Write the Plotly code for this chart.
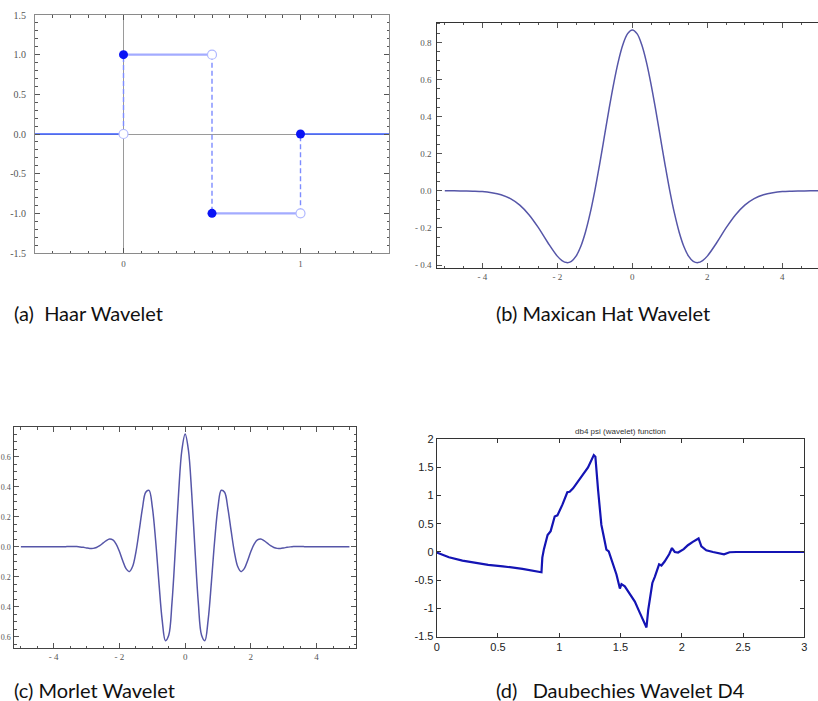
import plotly.graph_objects as go

# ---------------- data ----------------
# (a) Haar wavelet: break points and the level on each interval
haar_breaks = [0, 0.5, 1]
haar_levels = [0, 1, -1, 0]
haar_xlim = [-0.5, 1.5]
haar_filled_y = [1, -1, 0]     # value taken at each break point
haar_open_y = [0, 1, -1]       # limit from the left at each break point

# (b) Mexican hat wavelet
mex_x = [-5.0, -4.75, -4.5, -4.25, -4.0, -3.75, -3.5, -3.25, -3.0, -2.75, -2.5, -2.25,
         -2.0, -1.875, -1.75, -1.625, -1.5, -1.375, -1.25, -1.125, -1.0, -0.875, -0.75,
         -0.625, -0.5, -0.375, -0.25, -0.125, 0.0, 0.125, 0.25, 0.375, 0.5, 0.625, 0.75,
         0.875, 1.0, 1.125, 1.25, 1.375, 1.5, 1.625, 1.75, 1.875, 2.0,
         2.25, 2.5, 2.75, 3.0, 3.25, 3.5, 3.75, 4.0, 4.25, 4.5, 4.75, 5.0]
mex_y = [0.000, 0.000, -0.001, -0.002, -0.004, -0.010, -0.021, -0.042, -0.077, -0.130, -0.200, -0.280,
         -0.352, -0.376, -0.387, -0.380, -0.352, -0.300, -0.223, -0.122, 0.000, 0.139, 0.286,
         0.435, 0.574, 0.695, 0.788, 0.847, 0.867, 0.847, 0.788, 0.695, 0.574, 0.435, 0.286,
         0.139, 0.000, -0.122, -0.223, -0.300, -0.352, -0.380, -0.387, -0.376, -0.352,
         -0.280, -0.200, -0.130, -0.077, -0.042, -0.021, -0.010, -0.004, -0.002, -0.001, 0.000, 0.000]

# (c) Morlet wavelet
morlet_x = [-5.0, -4.9, -4.8, -4.7, -4.6, -4.5, -4.4, -4.3, -4.2, -4.1, -4.0,
            -3.9, -3.8, -3.7, -3.6, -3.5, -3.4, -3.3, -3.2, -3.1, -3.0,
            -2.9, -2.8, -2.7, -2.6, -2.5, -2.4, -2.3, -2.2, -2.1, -2.0,
            -1.9, -1.8, -1.7, -1.6, -1.5, -1.4, -1.3, -1.2, -1.1, -1.0,
            -0.9, -0.8, -0.7, -0.6, -0.5, -0.4, -0.3, -0.2, -0.1, 0.0,
            0.1, 0.2, 0.3, 0.4, 0.5, 0.6, 0.7, 0.8, 0.9, 1.0,
            1.1, 1.2, 1.3, 1.4, 1.5, 1.6, 1.7, 1.8, 1.9, 2.0,
            2.1, 2.2, 2.3, 2.4, 2.5, 2.6, 2.7, 2.8, 2.9, 3.0,
            3.1, 3.2, 3.3, 3.4, 3.5, 3.6, 3.7, 3.8, 3.9, 4.0,
            4.1, 4.2, 4.3, 4.4, 4.5, 4.6, 4.7, 4.8, 4.9, 5.0]
morlet_y = [0, 0, 0, 0, 0, 0, 0, 0, 0, 0, 0,
            0, 0, 0.000, 0.001, 0.002, 0.002, 0.001, -0.001, -0.004, -0.008,
            -0.011, -0.011, -0.005, 0.007, 0.024, 0.041, 0.051, 0.045, 0.017, -0.032,
            -0.093, -0.146, -0.166, -0.132, -0.037, 0.105, 0.256, 0.363, 0.376, 0.266,
            0.045, -0.234, -0.487, -0.626, -0.590, -0.371, -0.022, 0.355, 0.643, 0.751,
            0.643, 0.355, -0.022, -0.371, -0.590, -0.626, -0.487, -0.234, 0.045, 0.266,
            0.376, 0.363, 0.256, 0.105, -0.037, -0.132, -0.166, -0.146, -0.093, -0.032,
            0.017, 0.045, 0.051, 0.041, 0.024, 0.007, -0.005, -0.011, -0.011, -0.008,
            -0.004, -0.001, 0.001, 0.002, 0.002, 0.001, 0.000, 0, 0, 0,
            0, 0, 0, 0, 0, 0, 0, 0, 0, 0]
# tick labels as visible in the picture (minus signs are cropped there)
morlet_ytext = ['0.6', '0.4', '0.2', '0.0', '0.2', '0.4', '0.6']

# (d) Daubechies D4 (db4 psi)
db_x = [0.0, 0.10, 0.21, 0.32, 0.42, 0.54, 0.70, 0.855, 0.862, 0.875, 0.905, 0.93,
        0.963, 0.985, 1.026, 1.066, 1.085, 1.113, 1.167, 1.235, 1.282, 1.295, 1.317,
        1.344, 1.363, 1.385, 1.404, 1.426, 1.467, 1.495, 1.508, 1.535, 1.576, 1.617,
        1.658, 1.712, 1.726, 1.74, 1.76, 1.78, 1.815, 1.834, 1.86, 1.897, 1.92, 1.943,
        1.97, 2.016, 2.05, 2.09, 2.137, 2.16, 2.20, 2.255, 2.31, 2.345, 2.39, 2.445, 3.0]
db_y = [-0.01, -0.094, -0.153, -0.189, -0.23, -0.254, -0.30, -0.36, -0.10, 0.05, 0.30, 0.37,
        0.63, 0.65, 0.84, 1.06, 1.07, 1.13, 1.29, 1.50, 1.72, 1.69, 1.10,
        0.48, 0.28, 0.04, 0.01, -0.14, -0.40, -0.65, -0.57, -0.61, -0.74, -0.88,
        -1.08, -1.34, -1.03, -0.80, -0.55, -0.44, -0.22, -0.24, -0.17, -0.04, 0.07, 0.0,
        -0.01, 0.05, 0.12, 0.18, 0.24, 0.10, 0.03, 0.0, -0.02, -0.04, -0.005, 0.0, 0.0]

captions = ["(a)\u00a0\u00a0Haar Wavelet", "(b) Maxican Hat Wavelet",
            "(c) Morlet Wavelet", "(d)\u00a0\u00a0\u00a0Daubechies Wavelet D4"]
db_title = "db4 psi (wavelet) function"

# ---------------- figure ----------------
W, H = 818, 701
def dx(a, b): return [a / W, b / W]
def dy(top, bottom): return [1 - bottom / H, 1 - top / H]

fig = go.Figure()

# --- (a) Haar ---
seg_x = [haar_xlim[0]] + haar_breaks + [haar_xlim[1]]
for i, lvl in enumerate(haar_levels):
    col = '#3a5cff' if lvl == 0 else '#a3abff'
    wid = 1.4 if lvl == 0 else 2.2
    fig.add_trace(go.Scatter(x=[seg_x[i], seg_x[i + 1]], y=[lvl, lvl], mode='lines',
                             line=dict(color=col, width=wid), xaxis='x', yaxis='y',
                             showlegend=False, hoverinfo='skip'))
for i, b in enumerate(haar_breaks):
    fig.add_trace(go.Scatter(x=[b, b], y=[haar_levels[i], haar_levels[i + 1]], mode='lines',
                             line=dict(color='#7d8cff', width=1.4, dash='5px,3px'),
                             xaxis='x', yaxis='y', showlegend=False, hoverinfo='skip'))
fig.add_trace(go.Scatter(x=haar_breaks, y=haar_open_y, mode='markers',
                         marker=dict(size=9, color='white', line=dict(color='#b0b8ff', width=1.2)),
                         xaxis='x', yaxis='y', showlegend=False, hoverinfo='skip'))
fig.add_trace(go.Scatter(x=haar_breaks, y=haar_filled_y, mode='markers',
                         marker=dict(size=9, color='#0a14f5', line=dict(width=0)),
                         xaxis='x', yaxis='y', showlegend=False, hoverinfo='skip'))

# --- (b) Mexican hat ---
fig.add_trace(go.Scatter(x=mex_x, y=mex_y, mode='lines', line=dict(color='#5656a8', width=1.5, shape='spline'),
                         xaxis='x2', yaxis='y2', showlegend=False, hoverinfo='skip'))
# --- (c) Morlet ---
fig.add_trace(go.Scatter(x=morlet_x, y=morlet_y, mode='lines', line=dict(color='#5656a8', width=1.5, shape='spline'),
                         xaxis='x3', yaxis='y3', showlegend=False, hoverinfo='skip'))
# --- (d) Daubechies ---
fig.add_trace(go.Scatter(x=db_x, y=db_y, mode='lines', line=dict(color='#1414b4', width=2.2),
                         xaxis='x4', yaxis='y4', showlegend=False, hoverinfo='skip'))

serif = dict(family='Liberation Serif', size=9, color='#555555')
sans = dict(family='Liberation Sans', size=11, color='#222222')

def mathax(dom, rng, tv, tt, minor_dt, anchor, linecolor, mirror='allticks', zeroline=False,
           font=serif, standoff=0):
    return dict(domain=dom, range=rng, anchor=anchor, tickvals=tv, ticktext=tt, automargin=False,
                showgrid=False, zeroline=zeroline, zerolinecolor='#9a9a9a', zerolinewidth=1,
                showline=True, linecolor=linecolor, linewidth=1, mirror=mirror,
                ticks='inside', ticklen=5, tickcolor='#555555', tickwidth=1,
                minor=dict(ticks='inside', dtick=minor_dt, ticklen=2.5, tickcolor='#555555', showgrid=False),
                tickfont=font, ticklabelstandoff=standoff, fixedrange=True)

fig.update_layout(
    width=W, height=H, margin=dict(l=0, r=0, t=0, b=0, autoexpand=False),
    paper_bgcolor='white', plot_bgcolor='white',
    xaxis=mathax(dx(35, 389), [-0.5, 1.5], [0, 1], ['0', '1'], 0.1, 'y', '#8a8a8a', zeroline=True,
                 standoff=2),
    yaxis=mathax(dy(15, 253), [-1.5, 1.5], [-1.5, -1.0, -0.5, 0.0, 0.5, 1.0, 1.5],
                 ['-1.5', '-1.0', '-0.5', '0.0', '0.5', '1.0', '1.5'], 0.1, 'x', '#8a8a8a', zeroline=True,
                 font=dict(family='Liberation Serif', size=10, color='#555555'), standoff=6),
    xaxis2=mathax(dx(437.3, 818), [-5.2, 4.952], [-4, -2, 0, 2, 4], ['- 4', '- 2', '0', '2', '4'], 0.5,
                  'y2', '#333333'),
    yaxis2=mathax(dy(22.7, 268), [-0.416, 0.906], [-0.4, -0.2, 0.0, 0.2, 0.4, 0.6, 0.8],
                  ['- 0.4', '- 0.2', '0.0', '0.2', '0.4', '0.6', '0.8'], 0.05, 'x2', '#333333', mirror=False,
                  standoff=3),
    xaxis3=mathax(dx(14.3, 356), [-5.2, 5.2], [-4, -2, 0, 2, 4], ['- 4', '- 2', '0', '2', '4'], 0.5,
                  'y3', '#444444'),
    yaxis3=mathax(dy(427.3, 648.3), [-0.677, 0.796], [-0.6, -0.4, -0.2, 0.0, 0.2, 0.4, 0.6],
                  morlet_ytext, 0.05, 'x3', '#444444',
                  font=dict(family='Liberation Serif', size=8, color='#555555'), standoff=1),
    xaxis4=dict(domain=dx(436.7, 804.3), range=[0, 3], anchor='y4', automargin=False,
                tickvals=[0, 0.5, 1, 1.5, 2, 2.5, 3], ticktext=['0', '0.5', '1', '1.5', '2', '2.5', '3'],
                showgrid=False, zeroline=False, showline=True, linecolor='#333333', linewidth=1,
                mirror='ticks', ticks='inside', ticklen=4, tickcolor='#333333', tickfont=sans, fixedrange=True),
    yaxis4=dict(domain=dy(439.3, 636.5), range=[-1.5, 2], anchor='x4', automargin=False,
                tickvals=[-1.5, -1, -0.5, 0, 0.5, 1, 1.5, 2],
                ticktext=['-1.5', '-1', '-0.5', '0', '0.5', '1', '1.5', '2'],
                showgrid=False, zeroline=False, showline=True, linecolor='#333333', linewidth=1,
                mirror='ticks', ticks='inside', ticklen=4, tickcolor='#333333', tickfont=sans, fixedrange=True),
)

cap_font = dict(family='Lato', size=20, color='#111111')
cap_pos = [(12, 313), (494, 313), (12, 690), (494, 690)]
for txt, (px, py) in zip(captions, cap_pos):
    fig.add_annotation(text=txt, x=px / W, y=1 - py / H, xref='paper', yref='paper',
                       xanchor='left', yanchor='middle', showarrow=False, font=cap_font)

fig.add_annotation(text=db_title, x=620 / W, y=1 - 431 / H, xref='paper', yref='paper',
                   xanchor='center', yanchor='middle', showarrow=False,
                   font=dict(family='Liberation Sans', size=8, color='#333333'))

fig.write_html("out.html", config={'displayModeBar': False},
               post_script="document.body.style.margin='0';document.body.style.overflow='hidden';")
